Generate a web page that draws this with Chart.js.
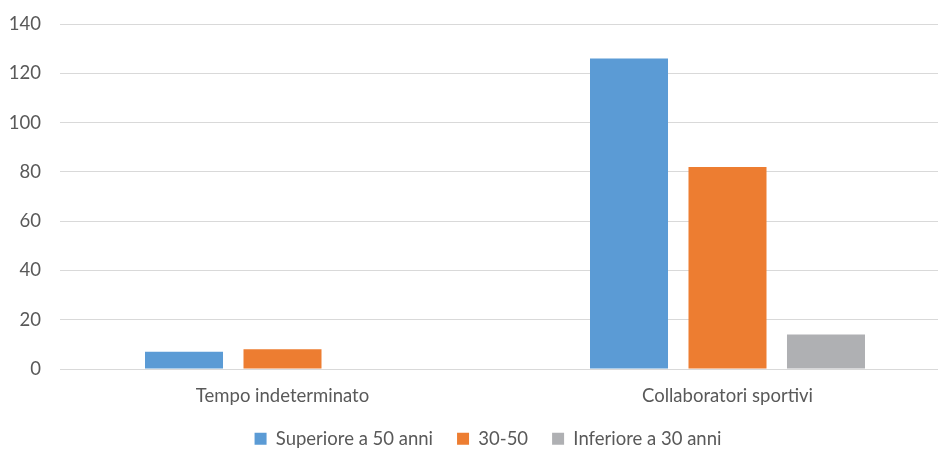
<!DOCTYPE html>
<html>
<head>
<meta charset="utf-8">
<script src="https://cdn.jsdelivr.net/npm/chart.js@4/dist/chart.umd.min.js"></script>
<style>
  html, body { margin: 0; padding: 0; background: #fff; }
  #wrap { width: 938px; height: 449px; overflow: hidden; position: relative; }
  #chart { display: block; }
</style>
</head>
<body>
<div id="wrap">
  <canvas id="chart" width="950" height="458"></canvas>
</div>
<script>
// ===== Personale per tipologia di contratto e fascia d'età =====

const categories = ['Tempo indeterminato', 'Collaboratori sportivi'];
const seriesLabels = ['Superiore a 50 anni', '30-50', 'Inferiore a 30 anni'];
const over50 = [7, 126];
const from30to50 = [8, 82];
const under30 = [0, 14];
const yTicks = [0, 20, 40, 60, 80, 100, 120, 140];

const colors = ['#5B9BD5', '#ED7D31', '#AFB0B3'];
const textColor = '#595959';
const gridColor = '#D9D9D9';
const baseFont = { family: 'Lato', size: 18.5 };

const datasets = [over50, from30to50, under30].map((values, i) => ({
  label: seriesLabels[i],
  data: values,
  backgroundColor: colors[i],
  borderWidth: 0,
  categoryPercentage: 0.664,
  barPercentage: 0.792
}));

// The legend is centred on the full figure, which is wider than the plot
// on its left side, so nudge it right after layout.
const legendShift = {
  id: 'legendShift',
  afterLayout(chart, args, opts) {
    const lg = chart.legend;
    if (!lg) return;
    lg.left += opts.dx;
    lg.right += opts.dx;
  }
};

const ctx = document.getElementById('chart').getContext('2d');

new Chart(ctx, {
  type: 'bar',
  data: { labels: categories, datasets },
  plugins: [legendShift],
  options: {
    responsive: false,
    animation: false,
    devicePixelRatio: 1,
    layout: { padding: { top: 24, left: -10, right: 0, bottom: 0 } },
    plugins: {
      tooltip: { enabled: false },
      legendShift: { dx: 18 },
      legend: {
        position: 'bottom',
        labels: { color: textColor, font: baseFont, boxWidth: 12, boxHeight: 12, padding: 24 }
      }
    },
    scales: {
      x: {
        grid: { display: false, drawTicks: false },
        border: { display: false },
        ticks: { color: textColor, font: baseFont, padding: 16, maxRotation: 0 },
        afterFit: scale => { scale.height = 36.5; }
      },
      y: {
        min: 0,
        max: 140,
        afterBuildTicks: scale => { scale.ticks = yTicks.map(v => ({ value: v })); },
        grid: { color: gridColor, lineWidth: 1, drawTicks: false },
        border: { display: false },
        ticks: { color: textColor, font: baseFont, padding: 19 },
        // fixed axis width; the top label only needs the layout padding above it
        afterFit: scale => {
          scale.width = 70;
          scale.paddingTop = 0;
        }
      }
    }
  }
});
</script>
</body>
</html>
